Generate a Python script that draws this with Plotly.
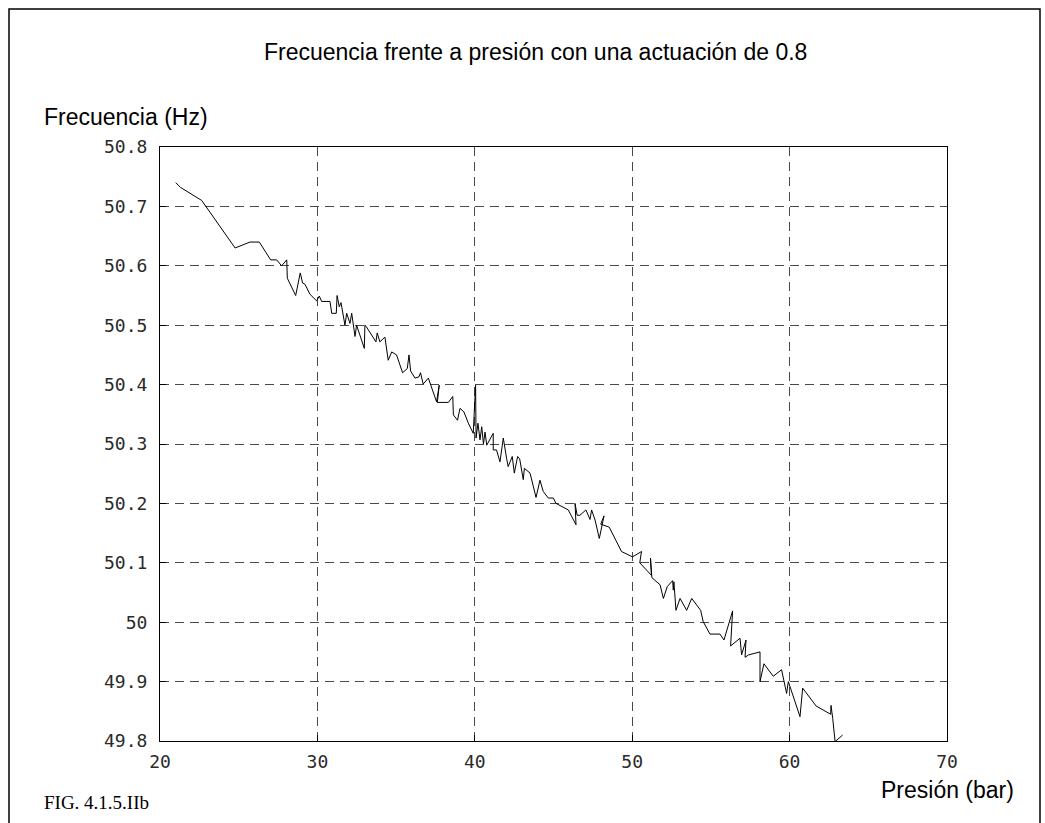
import plotly.graph_objects as go

# Presión (bar) and Frecuencia (Hz), in drawing order
presion = [21.0, 21.3, 22.65, 24.77, 25.72, 26.31, 27.03, 27.41, 27.73, 28.05,
           28.09, 28.62, 28.91, 29.06, 29.21, 29.53, 29.95, 30.12, 30.27, 30.80,
           30.91, 31.20, 31.25, 31.39, 31.50, 31.75, 31.86, 32.07, 32.18, 32.28,
           32.39, 32.49, 32.98, 33.02, 33.12, 33.72, 33.80, 33.97, 34.29, 34.50,
           34.72, 35.03, 35.41, 35.71, 35.82, 35.92, 36.20, 36.45, 36.55, 36.72,
           37.05, 37.57, 37.74, 37.62, 38.32, 38.60, 38.64, 38.90, 39.06, 39.31,
           39.59, 39.90, 40.05, 40.08, 40.20, 40.33, 40.44, 40.55, 40.65, 40.76,
           41.17, 41.17, 41.38, 41.60, 41.81, 42.02, 42.12, 42.38, 42.51, 42.72,
           42.85, 43.08, 43.15, 43.51, 43.89, 44.14, 44.35, 44.67, 44.99, 45.16,
           45.94, 46.43, 46.37, 46.50, 46.68, 47.06, 47.32, 47.42, 47.64, 47.91,
           48.21, 48.00, 48.54, 49.32, 50.02, 50.59, 50.48, 51.22, 51.16, 51.25,
           51.77, 51.98, 52.23, 52.57, 52.61, 52.65, 52.78, 53.04, 53.46, 53.78,
           54.35, 54.51, 54.94, 55.58, 55.83, 56.38, 56.25, 56.85, 56.95, 57.23,
           57.17, 57.40, 58.12, 58.12, 58.37, 58.96, 59.49, 59.81, 59.92, 60.66,
           60.83, 61.68, 62.61, 62.63, 62.74, 62.89, 63.37]
frecuencia = [50.740, 50.732, 50.710, 50.630, 50.640, 50.640, 50.610, 50.610, 50.600, 50.610,
              50.579, 50.550, 50.588, 50.571, 50.569, 50.552, 50.541, 50.549, 50.540, 50.540,
              50.520, 50.520, 50.550, 50.531, 50.538, 50.500, 50.520, 50.503, 50.520, 50.503,
              50.481, 50.500, 50.461, 50.500, 50.497, 50.472, 50.487, 50.472, 50.480, 50.441,
              50.455, 50.450, 50.420, 50.427, 50.450, 50.423, 50.411, 50.413, 50.420, 50.401,
              50.411, 50.371, 50.399, 50.370, 50.370, 50.380, 50.349, 50.340, 50.360, 50.354,
              50.335, 50.318, 50.399, 50.310, 50.335, 50.307, 50.329, 50.300, 50.320, 50.298,
              50.318, 50.290, 50.290, 50.270, 50.310, 50.276, 50.262, 50.279, 50.251, 50.279,
              50.275, 50.240, 50.259, 50.251, 50.210, 50.239, 50.220, 50.209, 50.209, 50.200,
              50.189, 50.164, 50.200, 50.180, 50.180, 50.189, 50.173, 50.189, 50.172, 50.141,
              50.179, 50.165, 50.160, 50.119, 50.110, 50.119, 50.100, 50.079, 50.108, 50.075,
              50.063, 50.040, 50.060, 50.070, 50.054, 50.068, 50.020, 50.040, 50.020, 50.040,
              50.020, 50.001, 49.980, 49.980, 49.970, 50.019, 49.960, 49.973, 49.945, 49.970,
              49.941, 49.945, 49.950, 49.900, 49.930, 49.909, 49.920, 49.880, 49.900, 49.841,
              49.889, 49.859, 49.845, 49.860, 49.838, 49.799, 49.810]

x_ticks = [20, 30, 40, 50, 60, 70]
y_ticks = [49.8, 49.9, 50.0, 50.1, 50.2, 50.3, 50.4, 50.5, 50.6, 50.7, 50.8]
y_tick_labels = ["49.8", "49.9", "50", "50.1", "50.2", "50.3", "50.4", "50.5", "50.6", "50.7", "50.8"]

title_text = "Frecuencia frente a presión con una actuación de 0.8"
y_label = "Frecuencia (Hz)"
x_label = "Presión (bar)"
fig_label = "FIG. 4.1.5.IIb"

W, H = 1045, 823
L, R, T, B = 160, 98, 147, 82
pw, ph = W - L - R, H - T - B

def px(xp):
    return (xp - L) / pw

def py(yp):
    return (H - B - yp) / ph

fig = go.Figure()
fig.add_trace(go.Scatter(x=presion, y=frecuencia, mode="lines",
                         line=dict(color="black", width=1), showlegend=False))

tick_font = dict(family="DejaVu Sans Mono", size=18, color="#2a2a2a")
grid_common = dict(showgrid=True, gridcolor="#4a4a4a", gridwidth=1, griddash="9px,6px",
                   showline=True, linecolor="black", linewidth=1, mirror=True,
                   ticks="inside", ticklen=6, tickcolor="black", zeroline=False,
                   tickfont=tick_font)

fig.update_xaxes(range=[20, 70], tickvals=x_ticks, ticktext=[str(v) for v in x_ticks],
                 ticklabelstandoff=4, **grid_common)
fig.update_yaxes(range=[49.8, 50.8], tickvals=y_ticks, ticktext=y_tick_labels,
                 ticklabelstandoff=8, **grid_common)

sans = "Liberation Sans, Arial, sans-serif"
annotations = [
    dict(text=title_text, x=px(535), y=py(52), xanchor="center", yanchor="middle",
         font=dict(family=sans, size=23, color="black")),
    dict(text=y_label, x=px(42), y=py(117), xanchor="left", yanchor="middle",
         font=dict(family=sans, size=23, color="black")),
    dict(text=x_label, x=px(1016), y=py(790), xanchor="right", yanchor="middle",
         font=dict(family=sans, size=23, color="black")),
    dict(text=fig_label, x=px(42), y=py(802), xanchor="left", yanchor="middle",
         font=dict(family="Liberation Serif, Times New Roman, serif", size=19, color="black")),
]
for a in annotations:
    a.update(xref="paper", yref="paper", showarrow=False)

fig.update_layout(
    width=W, height=H,
    margin=dict(l=L, r=R, t=T, b=B),
    paper_bgcolor="white", plot_bgcolor="white",
    annotations=annotations,
    shapes=[dict(type="rect", xref="paper", yref="paper",
                 x0=px(9), x1=px(1040), y0=py(840), y1=py(9),
                 line=dict(color="black", width=1.5), fillcolor="rgba(0,0,0,0)",
                 layer="above")],
)

fig.write_html("out.html")
